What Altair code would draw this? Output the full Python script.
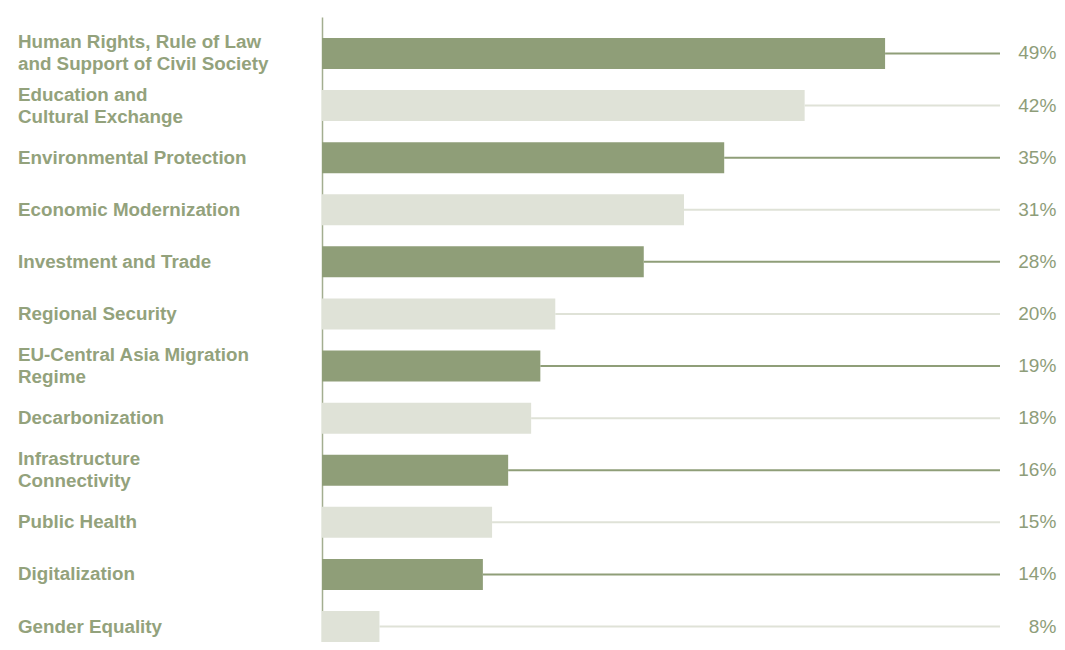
import altair as alt
import pandas as pd

categories = [
    "Human Rights, Rule of Law\nand Support of Civil Society",
    "Education and\nCultural Exchange",
    "Environmental Protection",
    "Economic Modernization",
    "Investment and Trade",
    "Regional Security",
    "EU-Central Asia Migration\nRegime",
    "Decarbonization",
    "Infrastructure\nConnectivity",
    "Public Health",
    "Digitalization",
    "Gender Equality",
]
# bar lengths as drawn in the picture
values = [49, 42, 35, 31.5, 28, 20.3, 19, 18.2, 16.2, 14.8, 14, 5]
value_labels = ["49%", "42%", "35%", "31%", "28%", "20%", "19%", "18%", "16%", "15%", "14%", "8%"]
shade = ["dark", "light"] * 6

df = pd.DataFrame({
    "cat": categories,
    "value": values,
    "label": value_labels,
    "shade": shade,
})

DARK = "#96a480"
LIGHT = "#dde0d6"
LINE_DARK = "#8f9e78"
LINE_LIGHT = "#dfe2d7"
TEXT = "#93a27c"

yscale = alt.Scale(domain=categories, paddingInner=0.405, paddingOuter=0.2015, align=1)
xscale = alt.Scale(domain=[0, 59], nice=False, zero=True)

y_enc = alt.Y("cat:N", scale=yscale, sort=categories,
              axis=alt.Axis(labels=False, ticks=False, title=None, domain=True,
                            domainColor="#a3ae90", domainWidth=1.5, grid=False))
x_enc = alt.X("value:Q", scale=xscale, axis=None)

base = alt.Chart(df)

lines = base.mark_rule(strokeWidth=2).encode(
    y=y_enc,
    x=x_enc,
    x2=alt.datum(59),
    color=alt.Color("shade:N", scale=alt.Scale(domain=["dark", "light"], range=[LINE_DARK, LINE_LIGHT]), legend=None),
)

bars = base.mark_bar(size=31).encode(
    y=y_enc,
    x=x_enc,
    color=alt.Color("shade:N", scale=alt.Scale(domain=["dark", "light"], range=[DARK, LIGHT]), legend=None),
)

text_style = dict(align="left", baseline="middle", font="Liberation Sans", fontWeight="bold",
                  fontSize=18.8, color=TEXT, lineBreak="\n", lineHeight=22)

cat_single = base.transform_filter("indexof(datum.cat, '\\n') < 0").mark_text(**text_style).encode(
    y=y_enc, x=alt.value(-304), text="cat:N",
)
cat_double = base.transform_filter("indexof(datum.cat, '\\n') >= 0").mark_text(dy=-11, **text_style).encode(
    y=y_enc, x=alt.value(-304), text="cat:N",
)

val_text = base.mark_text(
    align="right", baseline="middle", font="Liberation Sans", fontSize=19, color="#8e9d79",
).encode(
    y=y_enc,
    x=alt.X(datum=63.9, type="quantitative", scale=xscale, axis=None),
    text="label:N",
)

chart = alt.layer(lines, bars, cat_single, cat_double, val_text).properties(
    width=678, height=625,
    padding={"top": 9, "left": 314, "right": 57, "bottom": 0},
    autosize=alt.AutoSizeParams(type="none"),
).configure_view(stroke=None)

chart.save("out.html", embed_options={"renderer": "svg", "actions": False})
